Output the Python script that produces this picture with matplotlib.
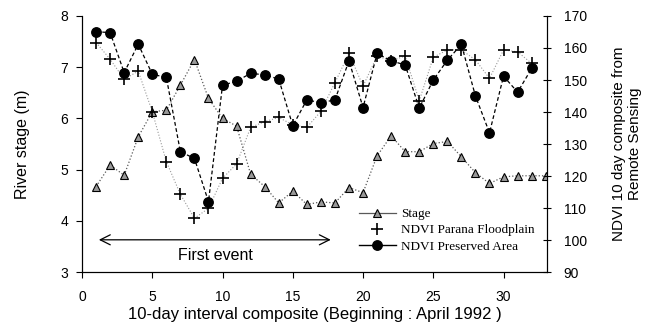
import numpy as np
import matplotlib.pyplot as plt

plt.rcParams['font.family'] = ['Liberation Sans', 'DejaVu Sans']

# 10-day composites
t = np.arange(1, 34)

# river stage (m)
stage = [4.67, 5.09, 4.89, 5.64, 6.13, 6.16, 6.65, 7.15, 6.39, 6.00, 5.85,
         4.91, 4.67, 4.35, 4.58, 4.32, 4.37, 4.35, 4.65, 4.55, 5.27, 5.66,
         5.35, 5.35, 5.51, 5.55, 5.25, 4.94, 4.73, 4.86, 4.88, 4.88, 4.88]

# NDVI Parana floodplain
t_ndvi = np.arange(1, 33)
parana = [161.7, 156.5, 150.2, 152.8, 140.1, 124.5, 114.3, 106.8, 109.9, 119.3, 123.8,
          135.2, 137.0, 138.3, 136.0, 135.2, 140.2, 149.2, 158.3, 148.1, 157.5, 156.0,
          157.5, 143.5, 157.1, 159.4, 159.4, 156.3, 150.5, 159.4, 158.8, 155.2]

# NDVI preserved area
preserved = [165.1, 164.8, 152.3, 161.2, 151.8, 150.8, 127.6, 125.5, 112.0, 148.4, 149.6,
             152.1, 151.6, 150.3, 135.7, 143.8, 142.9, 143.8, 156.0, 141.4, 158.3, 156.0,
             154.7, 141.2, 150.0, 156.2, 161.1, 145.0, 133.5, 151.2, 146.2, 153.6]

fig = plt.figure(figsize=(6.49, 3.31), dpi=100)
ax = fig.add_axes([0.1264, 0.178, 0.7166, 0.7737])
ax2 = ax.twinx()

l1, = ax.plot(t, stage, ls=':', color='0.35', lw=0.9, marker='^', ms=6,
              mfc='0.6', mec='black', mew=0.8, zorder=3)
l2, = ax2.plot(t_ndvi, parana, ls=':', color='0.6', lw=0.8, marker='+', ms=8,
               mec='black', mew=1.2)
l3, = ax2.plot(t_ndvi, preserved, ls=(0, (3, 2)), color='black', lw=0.9,
               marker='o', ms=6.8, mfc='black', mec='black')

ax.set_xlim(0, 33.1)
ax.set_ylim(3, 8)
ax2.set_ylim(90, 170)
ax.set_xticks([0, 5, 10, 15, 20, 25, 30])
ax.set_yticks([3, 4, 5, 6, 7, 8])
ax2.set_yticks(range(90, 171, 10))

for a in (ax, ax2):
    a.spines['top'].set_visible(False)
    a.tick_params(labelsize=10, length=4, width=0.8)
ax.tick_params(axis='both', direction='out')
ax.tick_params(axis='x', pad=9)
ax.tick_params(axis='y', pad=6)
ax2.tick_params(axis='y', direction='inout', length=6, pad=9)

ax.set_xlabel('10-day interval composite (Beginning : April 1992 )', fontsize=12, labelpad=2)
ax.set_ylabel('River stage (m)', fontsize=11.5, labelpad=22)
ax2.set_ylabel('NDVI 10 day composite from\nRemote Sensing', fontsize=11, labelpad=18)

ax.annotate('', xy=(1.0, 3.63), xytext=(17.9, 3.63),
            arrowprops=dict(arrowstyle='<->', lw=0.9, color='black', mutation_scale=18))
ax.text(9.5, 3.33, 'First event', ha='center', va='center', fontsize=11.5)

l2_leg = plt.Line2D([], [], ls='none', marker='+', ms=8, mec='black', mew=1.2)
l3_leg = plt.Line2D([], [], ls='-', color='black', lw=1, marker='o', ms=6.8, mfc='black')
l1_leg = plt.Line2D([], [], ls='-', color='0.35', lw=0.9, marker='^', ms=6,
                    mfc='0.6', mec='black', mew=0.8)
ax.legend([l1_leg, l2_leg, l3_leg],
          ['Stage', 'NDVI Parana Floodplain', 'NDVI Preserved Area'],
          loc='lower left', bbox_to_anchor=(0.575, 0.04), frameon=False,
          prop={'family': 'Liberation Serif', 'size': 9.5}, handlelength=2.8,
          labelspacing=0.3, borderpad=0.2, handletextpad=0.4)

fig.savefig('out.png', dpi=100)
